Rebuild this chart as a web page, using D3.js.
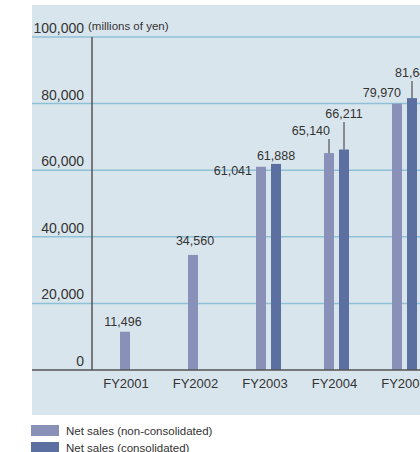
<!DOCTYPE html>
<html>
<head>
<meta charset="utf-8">
<script src="https://cdn.jsdelivr.net/npm/d3@7"></script>
<style>
  body { margin: 0; background: #fff; }
  svg { display: block; font-family: "Liberation Sans", Arial, sans-serif; }
</style>
</head>
<body>
<svg id="chart" width="420" height="452"></svg>
<script>
// chart data
const years = ['FY2001', 'FY2002', 'FY2003', 'FY2004', 'FY2005'];
const nonConsolidated = [11496, 34560, 61041, 65140, 79970];
const consolidated = [null, null, 61888, 66211, 81646];
const yTicks = [0, 20000, 40000, 60000, 80000, 100000];
const seriesNames = ['Net sales (non-consolidated)', 'Net sales (consolidated)'];

const colors = ['#8a91b9', '#5b6fa1'];

const svg = d3.select('#chart');

// panel background
svg.append('rect')
    .attr('x', 32).attr('y', 5)
    .attr('width', 400).attr('height', 410)
    .attr('fill', '#d9e5ed');

const y = d3.scaleLinear().domain([0, 100000]).range([370, 37]);
const x = d3.scalePoint().domain(years).range([132, 404]);

// gridlines
svg.selectAll('.grid')
    .data(yTicks.filter(d => d > 0))
    .enter()
    .append('line')
    .attr('x1', 32).attr('x2', 420)
    .attr('y1', d => y(d)).attr('y2', d => y(d))
    .attr('stroke', '#8fc1d6')
    .attr('stroke-width', 1.5);

// tick labels
svg.selectAll('.tick')
    .data(yTicks)
    .enter()
    .append('text')
    .attr('x', 84)
    .attr('y', d => y(d) - 4)
    .attr('text-anchor', 'end')
    .attr('font-size', 14)
    .attr('fill', '#333')
    .text(d => d3.format(',')(d));

svg.append('text')
    .attr('x', 88).attr('y', 30)
    .attr('font-size', 11.5)
    .attr('fill', '#333')
    .text('(millions of yen)');

// bars: light bar left of the year's centre, dark bar right of it
function barX(i, series) {
    const c = x(years[i]);
    return series === 0 ? c - 12 : c + 3;
}

const barData = [];
years.forEach((yr, i) => {
    barData.push({ i: i, s: 0, v: nonConsolidated[i] });
    if (consolidated[i] != null) barData.push({ i: i, s: 1, v: consolidated[i] });
});

svg.selectAll('.bar')
    .data(barData)
    .enter()
    .append('rect')
    .attr('x', d => barX(d.i, d.s))
    .attr('y', d => y(d.v))
    .attr('width', 10)
    .attr('height', d => y(0) - y(d.v))
    .attr('fill', d => colors[d.s]);

// axes
svg.append('line')
    .attr('x1', 92).attr('x2', 92)
    .attr('y1', y(100000)).attr('y2', y(0))
    .attr('stroke', '#555').attr('stroke-width', 1.5);
svg.append('line')
    .attr('x1', 32).attr('x2', 420)
    .attr('y1', y(0)).attr('y2', y(0))
    .attr('stroke', '#555').attr('stroke-width', 1.5);

// category labels
svg.selectAll('.cat')
    .data(years)
    .enter()
    .append('text')
    .attr('x', (d, i) => x(d) - 6 + i * 1.5)
    .attr('y', 388)
    .attr('text-anchor', 'middle')
    .attr('font-size', 13)
    .attr('fill', '#333')
    .text(d => d);

// value labels
const fmt = d3.format(',');
const labelStyle = sel => sel.attr('font-size', 12.5).attr('fill', '#333');

// FY2001, FY2002: centred above bar
[0, 1].forEach(i => {
    svg.append('text')
        .attr('x', barX(i, 0) + 5 + (i === 0 ? -2 : 2))
        .attr('y', y(nonConsolidated[i]) - (i === 0 ? 6 : 10))
        .attr('text-anchor', 'middle')
        .call(labelStyle)
        .text(fmt(nonConsolidated[i]));
});

// FY2003
svg.append('text')
    .attr('x', barX(2, 0) - 4).attr('y', y(nonConsolidated[2]) + 8)
    .attr('text-anchor', 'end').call(labelStyle)
    .text(fmt(nonConsolidated[2]));
svg.append('text')
    .attr('x', barX(2, 1) + 5).attr('y', y(consolidated[2]) - 4)
    .attr('text-anchor', 'middle').call(labelStyle)
    .text(fmt(consolidated[2]));

// FY2004, FY2005 with leader lines
function leader(i, series, textX, textY, anchor) {
    const v = series === 0 ? nonConsolidated[i] : consolidated[i];
    const bx = barX(i, series) + 5;
    svg.append('line')
        .attr('x1', bx).attr('x2', bx)
        .attr('y1', textY + 4).attr('y2', y(v))
        .attr('stroke', '#333').attr('stroke-width', 1);
    svg.append('text')
        .attr('x', textX).attr('y', textY)
        .attr('text-anchor', anchor).call(labelStyle)
        .text(fmt(v));
}
leader(3, 0, barX(3, 0) + 6, 135, 'end');
leader(3, 1, barX(3, 1) + 5, 118, 'middle');

svg.append('text')
    .attr('x', barX(4, 0) + 9).attr('y', y(nonConsolidated[4]) - 7)
    .attr('text-anchor', 'end').call(labelStyle)
    .text(fmt(nonConsolidated[4]));
leader(4, 1, barX(4, 1) - 12, 77, 'start');

// legend
const legend = svg.selectAll('.legend')
    .data(seriesNames)
    .enter()
    .append('g')
    .attr('transform', (d, i) => `translate(31, ${425 + i * 17})`);
legend.append('rect')
    .attr('width', 28).attr('height', 11)
    .attr('fill', (d, i) => colors[i]);
legend.append('text')
    .attr('x', 35).attr('y', 10)
    .attr('font-size', 11.5)
    .attr('fill', '#333')
    .text(d => d);
</script>
</body>
</html>
